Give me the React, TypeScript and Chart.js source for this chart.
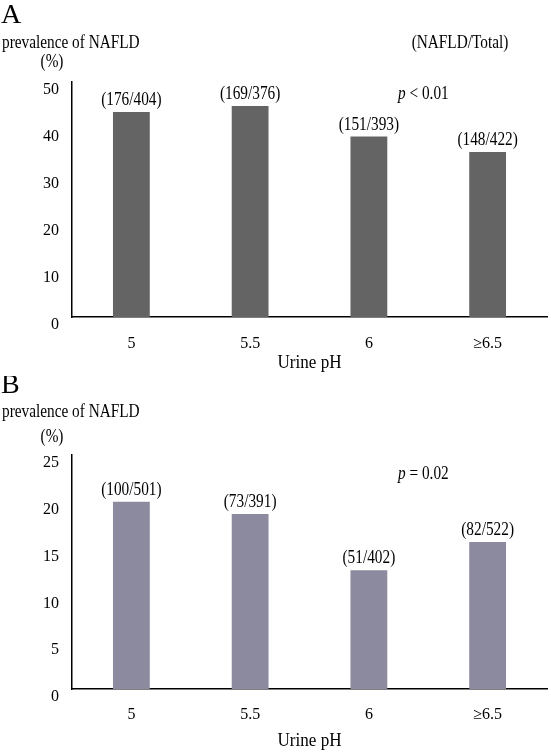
import React, { useEffect, useRef } from 'react';
import { Chart, registerables } from 'chart.js';

Chart.register(...registerables);

const FONT = '"Liberation Serif", "Times New Roman", serif';
const SX = 0.85; // horizontal compression of annotation text

// Data
const categories = ['5', '5.5', '6', '≥6.5'];
const panelANafld = [176, 169, 151, 148];
const panelATotal = [404, 376, 393, 422];
const panelAPrevalence = [43.6, 44.9, 38.4, 35.1];
const panelBNafld = [100, 73, 51, 82];
const panelBTotal = [501, 391, 402, 522];
const panelBPrevalence = [20.0, 18.7, 12.7, 15.7];
const panelAYMax = 50;
const panelAYStep = 10;
const panelBYMax = 25;
const panelBYStep = 5;

type PanelProps = {
  letter: string;
  values: number[];
  nafld: number[];
  total: number[];
  color: string;
  yMax: number;
  yStep: number;
  height: number;
  padTop: number;
  xHeight: number;
  tickPad: number;
  pLabel: string;
  pRest: string;
  showHeader: boolean;
  letterBase: number;
  prevBase: number;
  pctBase: number;
  pBase: number;
  titleBase: number;
};

function drawText(
  ctx: CanvasRenderingContext2D,
  s: string,
  x: number,
  y: number,
  align: CanvasTextAlign,
  sx: number
) {
  ctx.save();
  ctx.translate(x, y);
  ctx.scale(sx, 1);
  ctx.textAlign = align;
  ctx.fillText(s, 0, 0);
  ctx.restore();
}

function Panel(p: PanelProps) {
  const ref = useRef<HTMLCanvasElement>(null);
  useEffect(() => {
    if (!ref.current) return;
    const textPlugin = {
      id: 'panelText',
      afterDraw(chart: any) {
        const ctx = chart.ctx as CanvasRenderingContext2D;
        const ca = chart.chartArea;
        ctx.save();
        ctx.fillStyle = '#000';
        ctx.textBaseline = 'alphabetic';
        // Panel letter
        ctx.font = `28px ${FONT}`;
        drawText(ctx, p.letter, 1, p.letterBase, 'left', 1);
        // Axis caption
        ctx.font = `18px ${FONT}`;
        drawText(ctx, 'prevalence of NAFLD', 2, p.prevBase, 'left', SX);
        drawText(ctx, '(%)', 52, p.pctBase, 'center', SX);
        if (p.showHeader) {
          drawText(ctx, '(NAFLD/Total)', 460, p.prevBase, 'center', SX);
        }
        // p-value
        ctx.font = `italic 18px ${FONT}`;
        const wp = ctx.measureText(p.pLabel).width * SX;
        drawText(ctx, p.pLabel, 398, p.pBase, 'left', SX);
        ctx.font = `18px ${FONT}`;
        drawText(ctx, p.pRest, 398 + wp, p.pBase, 'left', SX);
        // x title
        drawText(ctx, 'Urine pH', (ca.left + ca.right) / 2, p.titleBase, 'center', 0.95);
        // bar labels
        const meta = chart.getDatasetMeta(0);
        meta.data.forEach((bar: any, i: number) => {
          drawText(ctx, `(${p.nafld[i]}/${p.total[i]})`, bar.x, bar.y - 7, 'center', SX);
        });
        ctx.restore();
      },
    };
    const chart = new Chart(ref.current, {
      type: 'bar',
      data: {
        labels: categories,
        datasets: [
          {
            data: p.values,
            backgroundColor: p.color,
            borderWidth: 0,
            categoryPercentage: 1,
            barPercentage: 0.31,
          },
        ],
      },
      options: {
        responsive: false,
        animation: false,
        devicePixelRatio: 1,
        layout: { padding: { top: p.padTop, right: 4, left: 0, bottom: 0 } },
        plugins: { legend: { display: false }, tooltip: { enabled: false } },
        scales: {
          x: {
            grid: { display: false, drawTicks: false },
            border: { display: true, color: '#000', width: 1.5 },
            ticks: { color: '#000', font: { family: FONT, size: 16 }, padding: p.tickPad },
            afterFit: (s: any) => {
              s.height = p.xHeight;
            },
          },
          y: {
            min: 0,
            max: p.yMax,
            grid: { display: false, drawTicks: false },
            border: { display: true, color: '#000', width: 1.5 },
            ticks: {
              stepSize: p.yStep,
              color: '#000',
              font: { family: FONT, size: 16 },
              padding: 13,
              labelOffset: 8,
            },
            afterFit: (s: any) => {
              s.width = 72;
            },
          },
        },
      },
      plugins: [textPlugin],
    });
    return () => chart.destroy();
  }, []);
  return (
    <canvas
      ref={ref}
      width={551}
      height={p.height}
      style={{ display: 'block', width: 551, height: p.height }}
    />
  );
}

export default function App() {
  return (
    <div style={{ position: 'fixed', left: 0, top: 0, width: 551, height: 753, background: '#fff' }}>
      <Panel
        letter="A"
        values={panelAPrevalence}
        nafld={panelANafld}
        total={panelATotal}
        color="#646464"
        yMax={panelAYMax}
        yStep={panelAYStep}
        height={376}
        padTop={82}
        xHeight={59}
        tickPad={17}
        pLabel="p"
        pRest=" < 0.01"
        showHeader={true}
        letterBase={23}
        prevBase={48}
        pctBase={67}
        pBase={99}
        titleBase={368}
      />
      <Panel
        letter="B"
        values={panelBPrevalence}
        nafld={panelBNafld}
        total={panelBTotal}
        color="#8b8a9e"
        yMax={panelBYMax}
        yStep={panelBYStep}
        height={377}
        padTop={79}
        xHeight={64}
        tickPad={16}
        pLabel="p"
        pRest=" = 0.02"
        showHeader={false}
        letterBase={17}
        prevBase={41}
        pctBase={66}
        pBase={103}
        titleBase={370}
      />
    </div>
  );
}
